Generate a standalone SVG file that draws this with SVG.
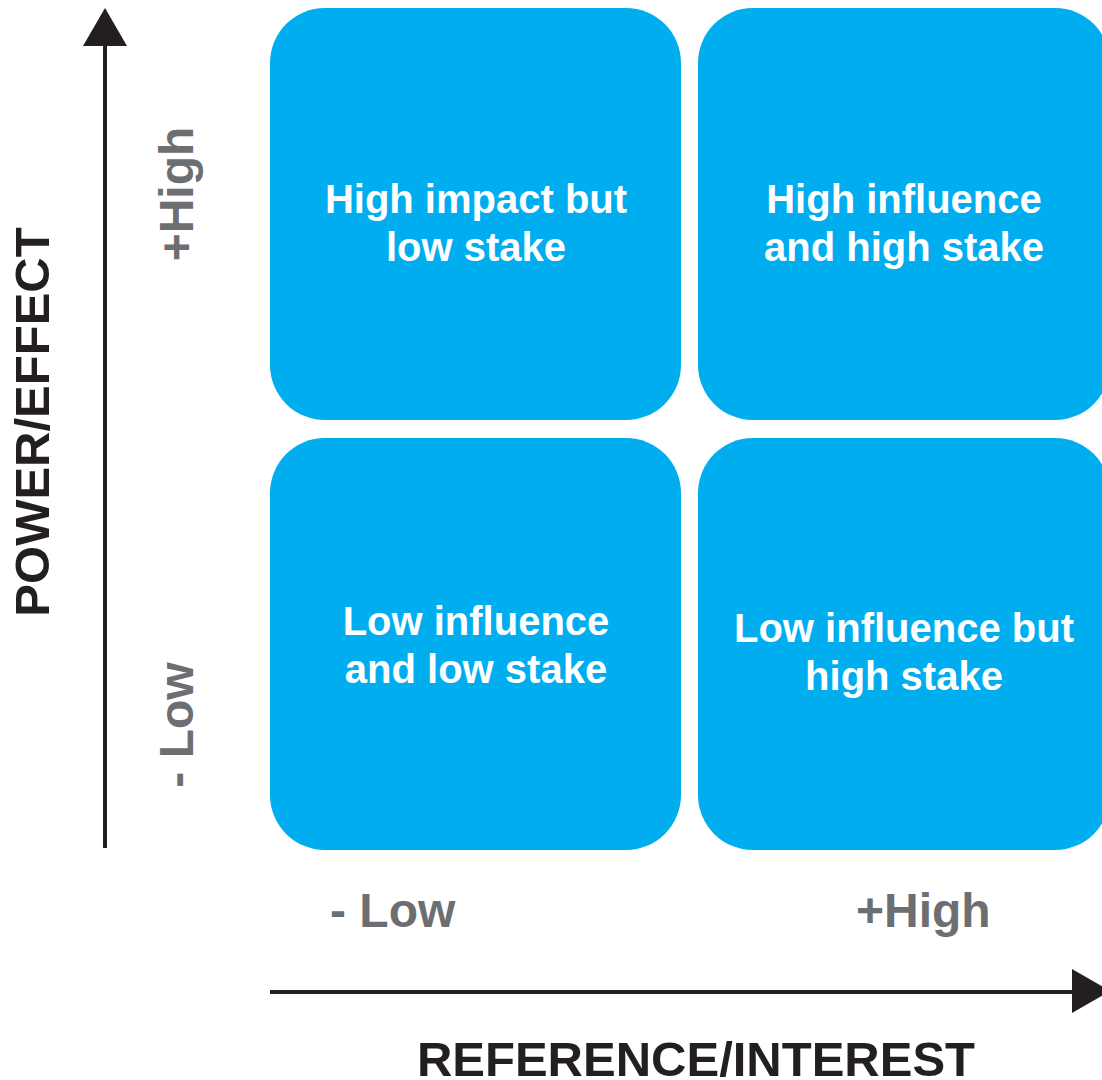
<svg xmlns="http://www.w3.org/2000/svg" width="1102" height="1080" viewBox="0 0 1102 1080">
  <style>
    .cell { fill: #00AEEF; }
    .cell-text { font-family: "Liberation Sans", Arial, sans-serif; font-weight: bold; font-size: 40px; fill: #FFFFFF; text-anchor: middle; }
    .level { font-family: "Liberation Sans", Arial, sans-serif; font-weight: bold; font-size: 48px; fill: #6D6E71; }
    .axis-title { font-family: "Liberation Sans", Arial, sans-serif; font-weight: bold; font-size: 49px; fill: #231F20; text-anchor: middle; }
    .axis-line { stroke: #231F20; stroke-width: 4; fill: none; }
    .axis-head { fill: #231F20; }
  </style>

  <rect width="1102" height="1080" fill="#FFFFFF"/>

  <!-- axes -->
  <g id="connectors">
    <line class="axis-line" x1="105" y1="848" x2="105" y2="44"/>
    <polygon class="axis-head" points="105,8 127,46 83,46"/>
    <line class="axis-line" x1="270" y1="992" x2="1074" y2="992"/>
    <polygon class="axis-head" points="1072,969 1110,991 1072,1013"/>
  </g>

  <!-- quadrants -->
  <g id="q-high-power-low-interest">
    <rect class="cell" x="270" y="8" width="411" height="412" rx="55" ry="55"/>
    <text class="cell-text" x="476" y="213">High impact but</text>
    <text class="cell-text" x="476" y="261">low stake</text>
  </g>
  <g id="q-high-power-high-interest">
    <rect class="cell" x="698" y="8" width="412" height="412" rx="55" ry="55"/>
    <text class="cell-text" x="904" y="213">High influence</text>
    <text class="cell-text" x="904" y="261">and high stake</text>
  </g>
  <g id="q-low-power-low-interest">
    <rect class="cell" x="270" y="438" width="411" height="412" rx="55" ry="55"/>
    <text class="cell-text" x="476" y="635">Low influence</text>
    <text class="cell-text" x="476" y="683">and low stake</text>
  </g>
  <g id="q-low-power-high-interest">
    <rect class="cell" x="698" y="438" width="412" height="412" rx="55" ry="55"/>
    <text class="cell-text" x="904" y="642">Low influence but</text>
    <text class="cell-text" x="904" y="690">high stake</text>
  </g>

  <!-- level labels -->
  <g id="levels">
    <text class="level" text-anchor="middle" transform="translate(193,194) rotate(-90)">+High</text>
    <text class="level" text-anchor="middle" transform="translate(193,725) rotate(-90)">- Low</text>
    <text class="level" x="330" y="927">- Low</text>
    <text class="level" x="856" y="927">+High</text>
  </g>

  <!-- axis titles -->
  <g id="axis-titles">
    <text class="axis-title" transform="translate(49,422) rotate(-90)">POWER/EFFECT</text>
    <text class="axis-title" x="696" y="1076">REFERENCE/INTEREST</text>
  </g>
</svg>
